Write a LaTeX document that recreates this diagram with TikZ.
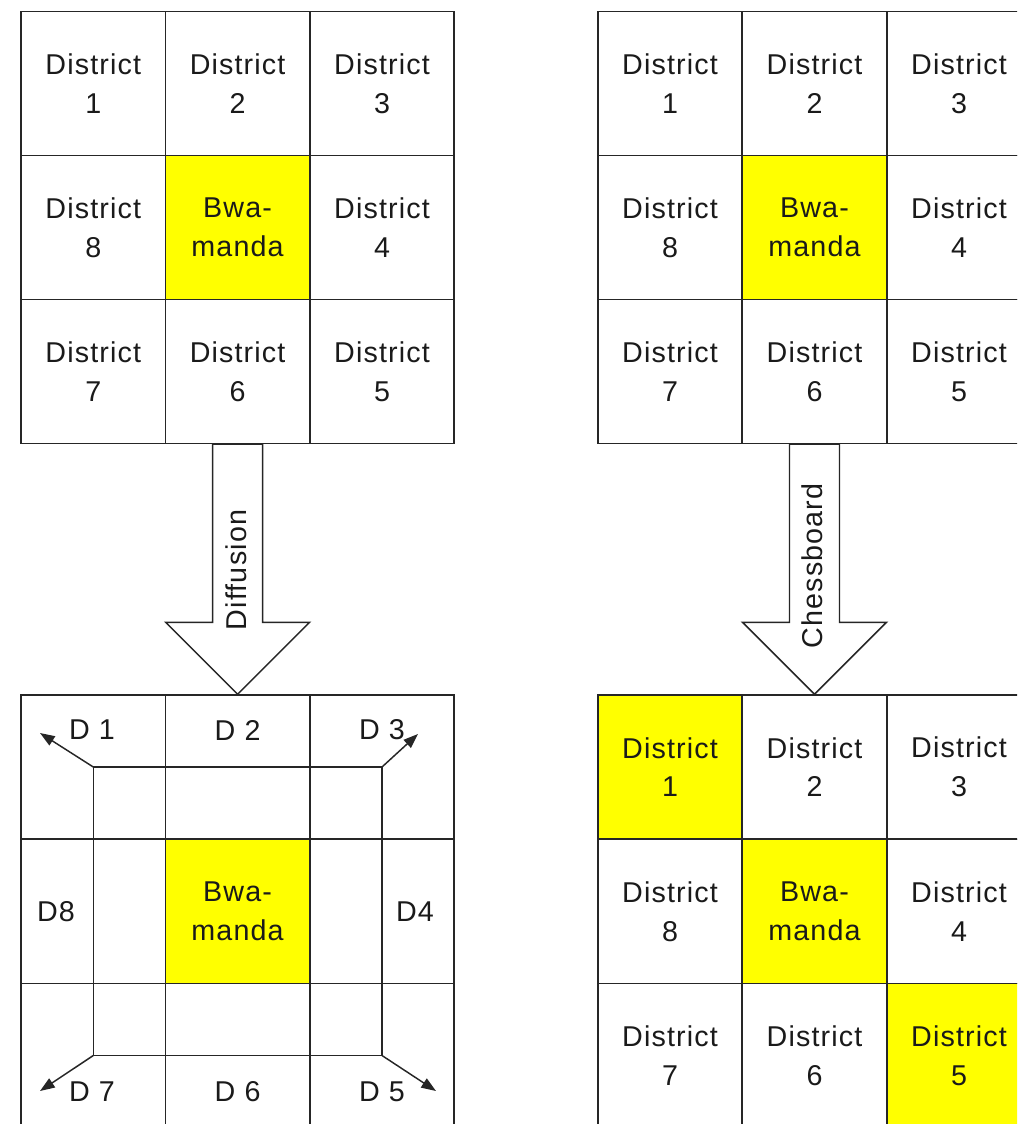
\documentclass[tikz,border=0pt]{standalone}
\usepackage{fontspec}
\setmainfont{Liberation Sans}[LetterSpace=4]
\usetikzlibrary{positioning,arrows.meta,calc}
\definecolor{hilite}{HTML}{FFFF00}
\definecolor{grid}{HTML}{262626}
\definecolor{ink}{HTML}{1A1A1A}

\begin{document}
\begin{tikzpicture}[x=.75pt,y=-.75pt,
  cell/.style={draw=grid,line width=1.1pt,minimum width=108.2pt,minimum height=108pt,inner sep=0pt,align=center,text=ink,font=\fontsize{21.5}{29}\selectfont},
  home/.style={cell,fill=hilite},
  lbl/.style={text=ink,inner sep=0pt,font=\fontsize{21.5}{29}\selectfont},
  flow/.style={draw=grid,line width=1.1pt,fill=white,line join=miter},
  spread/.style={draw=grid,line width=1.1pt,-{Triangle[length=11pt,width=8pt]}}]
\useasboundingbox (0,0) rectangle (1017,1124);
\clip (0,0) rectangle (1017,1124);
% districts before the split
\node[cell] (a1) at (93.3,83.5){District\\1};
\node[cell] (a2) at (237.6,83.5){District\\2};
\node[cell] (a3) at (382,83.5){District\\3};
\node[cell] (a8) at (93.3,227.5){District\\8};
\node[home] (ab) at (237.6,227.5){Bwa-\\manda};
\node[cell] (a4) at (382,227.5){District\\4};
\node[cell] (a7) at (93.3,371.5){District\\7};
\node[cell] (a6) at (237.6,371.5){District\\6};
\node[cell] (a5) at (382,371.5){District\\5};
\node[cell] (b1) at (670,83.5){District\\1};
\node[cell] (b2) at (814.5,83.5){District\\2};
\node[cell] (b3) at (959,83.5){District\\3};
\node[cell] (b8) at (670,227.5){District\\8};
\node[home] (bb) at (814.5,227.5){Bwa-\\manda};
\node[cell] (b4) at (959,227.5){District\\4};
\node[cell] (b7) at (670,371.5){District\\7};
\node[cell] (b6) at (814.5,371.5){District\\6};
\node[cell] (b5) at (959,371.5){District\\5};
% diffusion grid
\node[cell] (c1) at (93.3,767){};
\node[cell] (c2) at (237.6,767){};
\node[cell] (c3) at (382,767){};
\node[cell] (c8) at (93.3,911.5){};
\node[home] (cb) at (237.6,911.5){Bwa-\\manda};
\node[cell] (c4) at (382,911.5){};
\node[cell] (c7) at (93.3,1055.5){};
\node[cell] (c6) at (237.6,1055.5){};
\node[cell] (c5) at (382,1055.5){};
% chessboard grid
\node[home] (d1) at (670,767){District\\1};
\node[cell] (d2) at (814.5,767){District\\2};
\node[cell] (d3) at (959,767){District\\3};
\node[cell] (d8) at (670,911.5){District\\8};
\node[home] (db) at (814.5,911.5){Bwa-\\manda};
\node[cell] (d4) at (959,911.5){District\\4};
\node[cell] (d7) at (670,1055.5){District\\7};
\node[cell] (d6) at (814.5,1055.5){District\\6};
\node[home] (d5) at (959,1055.5){District\\5};
% ring and outward arrows
\draw[draw=grid,line width=1.1pt] (c1.center)--(c3.center)--(c5.center)--(c7.center)--cycle;
\coordinate (o1) at (40,733);\coordinate (o3) at (418,734);\coordinate (o5) at (436,1091);\coordinate (o7) at (40,1091);
\draw[spread] (c1.center)--(o1);\draw[spread] (c3.center)--(o3);\draw[spread] (c5.center)--(o5);\draw[spread] (c7.center)--(o7);
\node[lbl] (l1) at (92,730){D 1};
\node[lbl] (l2) at (237.6,730){D 2};
\node[lbl] (l3) at (382,730){D 3};
\node[lbl] (l8) at (56,912){D8};
\node[lbl] (l4) at (415,912){D4};
\node[lbl] (l7) at (92,1092){D 7};
\node[lbl] (l6) at (237.6,1092){D 6};
\node[lbl] (l5) at (382,1092){D 5};
% hollow arrows
\draw[flow] ($(a6.south)+(-25,0)$)--($(a6.south)+(25,0)$)--($(c2.north)+(25,-72)$)--($(c2.north)+(72,-72)$)--(c2.north)--($(c2.north)+(-72,-72)$)--($(c2.north)+(-25,-72)$)--cycle;
\draw[flow] ($(b6.south)+(-25,0)$)--($(b6.south)+(25,0)$)--($(d2.north)+(25,-72)$)--($(d2.north)+(72,-72)$)--(d2.north)--($(d2.north)+(-72,-72)$)--($(d2.north)+(-25,-72)$)--cycle;
\node[lbl,rotate=90] (diff) at (236,570){Diffusion};
\node[lbl,rotate=90] (chess) at (812,566){Chessboard};
\end{tikzpicture}
\end{document}
